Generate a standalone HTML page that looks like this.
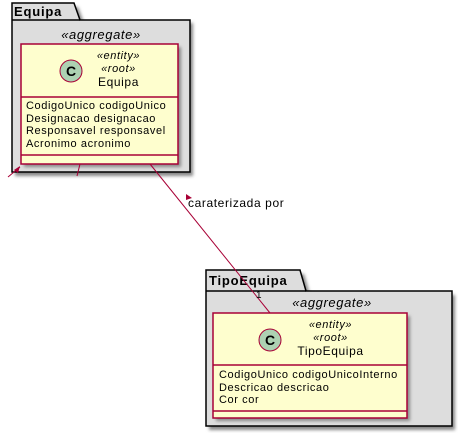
<!DOCTYPE html>
<html><head><style>
body{margin:0;width:458px;height:433px;background:#fff;position:relative;overflow:hidden;font-family:"Liberation Sans",sans-serif;font-size:11px;color:#000}
.a{position:absolute}
.t{letter-spacing:0.6px}
</style></head><body>
<svg class="a" style="left:0;top:0" width="458" height="433">
<defs><filter id="s"><feGaussianBlur stdDeviation="1.5"/></filter></defs>
<path d="M15 7 H78 L84 23 H193 V176 H15 Z" fill="#888" filter="url(#s)"/>
<path d="M12 3 H74 L80 20 H190 V172 H12 Z" fill="#ddd" stroke="#000" stroke-width="1.5"/>
<line x1="12" y1="20" x2="80" y2="20" stroke="#000" stroke-width="1.5"/>
<text x="14" y="16" font-size="13" font-weight="bold" letter-spacing="0.8" font-family="Liberation Sans">Equipa</text>
<text x="101" y="39" font-size="13" font-style="italic" letter-spacing="0.6" text-anchor="middle" font-family="Liberation Sans">«aggregate»</text>
<rect x="24" y="47" width="157" height="120" fill="#888" filter="url(#s)"/>
<rect x="21" y="44" width="157" height="120" fill="#fefece" stroke="#a80036" stroke-width="1.5"/>
<line x1="21" y1="97" x2="178" y2="97" stroke="#a80036" stroke-width="1.5"/>
<line x1="21" y1="155" x2="178" y2="155" stroke="#a80036" stroke-width="1.5"/>
<circle cx="71" cy="71" r="11" fill="#add1b2" stroke="#a80036"/>
<text x="71" y="76" font-size="14" font-weight="bold" text-anchor="middle" font-family="Liberation Sans">C</text>
<path d="M209 274 H304 L310 295 H455 V430 H209 Z" fill="#888" filter="url(#s)"/>
<path d="M206 270 H300 L306 291 H452 V426 H206 Z" fill="#ddd" stroke="#000" stroke-width="1.5"/>
<line x1="206" y1="291" x2="306" y2="291" stroke="#000" stroke-width="1.5"/>
<text x="209" y="285" font-size="13" font-weight="bold" letter-spacing="0.8" font-family="Liberation Sans">TipoEquipa</text>
<text x="332" y="307" font-size="13" font-style="italic" letter-spacing="0.6" text-anchor="middle" font-family="Liberation Sans">«aggregate»</text>
<rect x="216" y="316" width="194" height="105" fill="#888" filter="url(#s)"/>
<rect x="213" y="313" width="194" height="105" fill="#fefece" stroke="#a80036" stroke-width="1.5"/>
<line x1="213" y1="365" x2="407" y2="365" stroke="#a80036" stroke-width="1.5"/>
<line x1="213" y1="411" x2="407" y2="411" stroke="#a80036" stroke-width="1.5"/>
<circle cx="270" cy="340" r="11" fill="#add1b2" stroke="#a80036"/>
<text x="270" y="345" font-size="14" font-weight="bold" text-anchor="middle" font-family="Liberation Sans">C</text>
<line x1="150" y1="164" x2="270" y2="313" stroke="#a80036"/>
<polygon points="186,194 192,198 186,200" fill="#a80036"/>
<path d="M8 177 L20 167 M80 164 L77 176" stroke="#a80036" fill="none"/>
<polygon points="20,166 14,170 18,173" fill="#a80036"/>
</svg>
<div class="a t" style="left:21px;top:50px;width:195px;text-align:center;line-height:13px"><i>«entity»</i><br><i>«root»</i><br><span style="font-size:12px">Equipa</span></div>
<div class="a t" style="left:26px;top:100px;line-height:12.5px">CodigoUnico codigoUnico<br>Designacao designacao<br>Responsavel responsavel<br>Acronimo acronimo</div>
<div class="a t" style="left:258px;top:319px;width:145px;text-align:center;line-height:13px"><i>«entity»</i><br><i>«root»</i><br><span style="font-size:12px">TipoEquipa</span></div>
<div class="a t" style="left:219px;top:369px;line-height:12.5px">CodigoUnico codigoUnicoInterno<br>Descricao descricao<br>Cor cor</div>
<div class="a t" style="left:188px;top:196px;font-size:12px">caraterizada por</div>
<div class="a" style="left:256px;top:290px;font-size:10px">1</div>
</body></html>
